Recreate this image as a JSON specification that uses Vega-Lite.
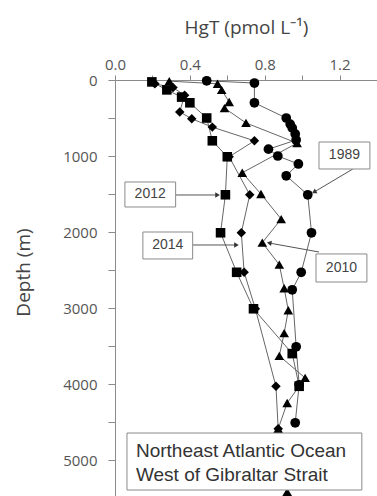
{
  "$schema": "https://vega.github.io/schema/vega-lite/v6.json",
  "width": 262,
  "height": 418,
  "autosize": "none",
  "padding": {"left": 115, "top": 80, "right": 0, "bottom": 0},
  "config": {
    "view": {"stroke": null},
    "font": "Open Sans",
    "axis": {"grid": false, "domainColor": "#8a8a8a", "tickColor": "#8a8a8a", "labelColor": "#555555", "labelFont": "Open Sans", "labelFontSize": 15, "titleFont": "Open Sans", "titleColor": "#444444", "titleFontWeight": "normal"}
  },
  "datasets": {
    "profiles": [
      {"year": "1989", "depth": 10, "hgt": 0.49},
      {"year": "1989", "depth": 40, "hgt": 0.745},
      {"year": "1989", "depth": 300, "hgt": 0.745},
      {"year": "1989", "depth": 500, "hgt": 0.915},
      {"year": "1989", "depth": 580, "hgt": 0.936},
      {"year": "1989", "depth": 630, "hgt": 0.947},
      {"year": "1989", "depth": 710, "hgt": 0.963},
      {"year": "1989", "depth": 790, "hgt": 0.968},
      {"year": "1989", "depth": 910, "hgt": 0.82},
      {"year": "1989", "depth": 1000, "hgt": 0.87},
      {"year": "1989", "depth": 1105, "hgt": 0.98},
      {"year": "1989", "depth": 1260, "hgt": 0.915},
      {"year": "1989", "depth": 1510, "hgt": 1.03},
      {"year": "1989", "depth": 2010, "hgt": 1.05},
      {"year": "1989", "depth": 2530, "hgt": 0.995},
      {"year": "1989", "depth": 2760, "hgt": 0.947},
      {"year": "1989", "depth": 3510, "hgt": 0.968},
      {"year": "1989", "depth": 4010, "hgt": 0.984},
      {"year": "1989", "depth": 4510, "hgt": 0.963},
      {"year": "2010", "depth": 15, "hgt": 0.29},
      {"year": "2010", "depth": 50, "hgt": 0.548},
      {"year": "2010", "depth": 130, "hgt": 0.57},
      {"year": "2010", "depth": 290, "hgt": 0.61},
      {"year": "2010", "depth": 370, "hgt": 0.585},
      {"year": "2010", "depth": 565, "hgt": 0.70},
      {"year": "2010", "depth": 830, "hgt": 0.973},
      {"year": "2010", "depth": 1220, "hgt": 0.68},
      {"year": "2010", "depth": 1500, "hgt": 0.78},
      {"year": "2010", "depth": 1830, "hgt": 0.888},
      {"year": "2010", "depth": 2140, "hgt": 0.787},
      {"year": "2010", "depth": 2430, "hgt": 0.878},
      {"year": "2010", "depth": 2740, "hgt": 0.904},
      {"year": "2010", "depth": 3030, "hgt": 0.926},
      {"year": "2010", "depth": 3330, "hgt": 0.904},
      {"year": "2010", "depth": 3630, "hgt": 0.878},
      {"year": "2010", "depth": 3920, "hgt": 1.016},
      {"year": "2010", "depth": 4250, "hgt": 0.92},
      {"year": "2010", "depth": 4590, "hgt": 0.872},
      {"year": "2010", "depth": 5420, "hgt": 0.92},
      {"year": "2012", "depth": 25, "hgt": 0.197},
      {"year": "2012", "depth": 130, "hgt": 0.277},
      {"year": "2012", "depth": 225, "hgt": 0.356},
      {"year": "2012", "depth": 300, "hgt": 0.40},
      {"year": "2012", "depth": 500, "hgt": 0.49},
      {"year": "2012", "depth": 800, "hgt": 0.52},
      {"year": "2012", "depth": 1010, "hgt": 0.60},
      {"year": "2012", "depth": 1510, "hgt": 0.59},
      {"year": "2012", "depth": 2010, "hgt": 0.564},
      {"year": "2012", "depth": 2530, "hgt": 0.65},
      {"year": "2012", "depth": 3010, "hgt": 0.74},
      {"year": "2012", "depth": 3600, "hgt": 0.947},
      {"year": "2012", "depth": 4030, "hgt": 0.984},
      {"year": "2014", "depth": 50, "hgt": 0.213},
      {"year": "2014", "depth": 100, "hgt": 0.31},
      {"year": "2014", "depth": 200, "hgt": 0.372},
      {"year": "2014", "depth": 420, "hgt": 0.346},
      {"year": "2014", "depth": 510, "hgt": 0.41},
      {"year": "2014", "depth": 620, "hgt": 0.52},
      {"year": "2014", "depth": 800, "hgt": 0.745},
      {"year": "2014", "depth": 1010, "hgt": 0.61},
      {"year": "2014", "depth": 1510, "hgt": 0.72},
      {"year": "2014", "depth": 2010, "hgt": 0.675},
      {"year": "2014", "depth": 2530, "hgt": 0.69},
      {"year": "2014", "depth": 3010, "hgt": 0.75},
      {"year": "2014", "depth": 4030, "hgt": 0.86},
      {"year": "2014", "depth": 4590, "hgt": 0.872}
    ],
    "labels": [
      {"label": "1989", "hgt": 1.090, "hgt2": 1.362, "depth": 816, "depth2": 1171, "thgt": 1.226, "tdepth": 993},
      {"label": "2012", "hgt": 0.053, "hgt2": 0.324, "depth": 1342, "depth2": 1671, "thgt": 0.188, "tdepth": 1506},
      {"label": "2014", "hgt": 0.149, "hgt2": 0.415, "depth": 2000, "depth2": 2355, "thgt": 0.282, "tdepth": 2177},
      {"label": "2010", "hgt": 1.074, "hgt2": 1.346, "depth": 2289, "depth2": 2658, "thgt": 1.210, "tdepth": 2473}
    ],
    "arrows": [
      {"label": "1989", "hgt": 1.271, "depth": 1171, "hgt2": 1.064, "depth2": 1474},
      {"label": "2012", "hgt": 0.324, "depth": 1513, "hgt2": 0.548, "depth2": 1513},
      {"label": "2014", "hgt": 0.415, "depth": 2171, "hgt2": 0.649, "depth2": 2171},
      {"label": "2010", "hgt": 1.090, "depth": 2263, "hgt2": 0.824, "depth2": 2145}
    ],
    "note": [
      {"hgt": 0.064, "hgt2": 1.319, "depth": 4645, "depth2": 5395}
    ],
    "noteText": [
      {"text": "Northeast Atlantic Ocean", "hgt": 0.112, "depth": 4882},
      {"text": "West of Gibraltar Strait", "hgt": 0.112, "depth": 5197}
    ]
  },
  "encoding": {
    "x": {
      "field": "hgt", "type": "quantitative",
      "scale": {"domain": [0, 1.4], "nice": false, "zero": false},
      "axis": {
        "orient": "top", "title": "HgT (pmol L⁻¹)", "titleFontSize": 19,
        "titleY": -47, "titleBaseline": "alphabetic",
        "values": [0, 0.2, 0.4, 0.6, 0.8, 1.0, 1.2, 1.4], "format": ".1f",
        "labelExpr": "(round(datum.value*10) % 4 == 0 && datum.value < 1.3) ? datum.label : ''",
        "tickSize": 5, "labelPadding": 3, "labelFlush": false
      }
    },
    "y": {
      "field": "depth", "type": "quantitative",
      "scale": {"domain": [0, 5500], "reverse": true, "nice": false, "zero": false},
      "axis": {
        "orient": "left", "title": "Depth (m)", "titleFontSize": 19,
        "titleX": -92, "titleY": 192, "titleAlign": "center", "titleBaseline": "middle", "titleAngle": -90,
        "values": [0, 500, 1000, 1500, 2000, 2500, 3000, 3500, 4000, 4500, 5000, 5500], "format": "d",
        "labelExpr": "datum.value % 1000 == 0 ? datum.label : ''",
        "tickSize": 7, "labelPadding": 11, "labelFlush": false
      }
    }
  },
  "layer": [
    {
      "data": {"name": "profiles"},
      "mark": {"type": "line", "color": "#666666", "strokeWidth": 1},
      "encoding": {"detail": {"field": "year"}, "order": {"field": "depth", "type": "quantitative"}}
    },
    {
      "data": {"name": "profiles"},
      "mark": {"type": "point", "filled": true, "color": "#000000", "opacity": 1},
      "encoding": {
        "shape": {"field": "year", "type": "nominal", "scale": {"domain": ["1989", "2010", "2012", "2014"], "range": ["circle", "triangle-up", "square", "diamond"]}, "legend": null},
        "size": {"field": "year", "type": "nominal", "scale": {"domain": ["1989", "2010", "2012", "2014"], "range": [95, 90, 85, 90]}, "legend": null}
      }
    },
    {
      "data": {"name": "arrows"},
      "mark": {"type": "rule", "color": "#555555", "strokeWidth": 1},
      "encoding": {"x2": {"field": "hgt2"}, "y2": {"field": "depth2"}}
    },
    {
      "data": {"name": "arrows"},
      "transform": [{"filter": "datum.label == '2012' || datum.label == '2014'"}],
      "mark": {"type": "point", "shape": "triangle-right", "filled": true, "color": "#333333", "size": 28, "opacity": 1},
      "encoding": {"x": {"field": "hgt2", "type": "quantitative"}, "y": {"field": "depth2", "type": "quantitative"}}
    },
    {
      "data": {"name": "arrows"},
      "transform": [{"filter": "datum.label == '1989'"}],
      "mark": {"type": "point", "shape": "triangle-up", "angle": 240, "filled": true, "color": "#333333", "size": 28, "opacity": 1},
      "encoding": {"x": {"field": "hgt2", "type": "quantitative"}, "y": {"field": "depth2", "type": "quantitative"}}
    },
    {
      "data": {"name": "arrows"},
      "transform": [{"filter": "datum.label == '2010'"}],
      "mark": {"type": "point", "shape": "triangle-up", "angle": 280, "filled": true, "color": "#333333", "size": 28, "opacity": 1},
      "encoding": {"x": {"field": "hgt2", "type": "quantitative"}, "y": {"field": "depth2", "type": "quantitative"}}
    },
    {
      "data": {"name": "labels"},
      "mark": {"type": "rect", "fill": "#ffffff", "stroke": "#8a8a8a", "strokeWidth": 1},
      "encoding": {"x2": {"field": "hgt2"}, "y2": {"field": "depth2"}}
    },
    {
      "data": {"name": "labels"},
      "mark": {"type": "text", "fontSize": 14, "color": "#444444", "align": "center", "baseline": "middle", "font": "Liberation Sans"},
      "encoding": {"x": {"field": "thgt", "type": "quantitative"}, "y": {"field": "tdepth", "type": "quantitative"}, "text": {"field": "label"}}
    },
    {
      "data": {"name": "note"},
      "mark": {"type": "rect", "fill": "#ffffff", "stroke": "#8a8a8a", "strokeWidth": 1},
      "encoding": {"x2": {"field": "hgt2"}, "y2": {"field": "depth2"}}
    },
    {
      "data": {"name": "noteText"},
      "mark": {"type": "text", "fontSize": 19, "color": "#333333", "align": "left", "baseline": "middle", "font": "Liberation Sans"},
      "encoding": {"text": {"field": "text"}}
    }
  ]
}
